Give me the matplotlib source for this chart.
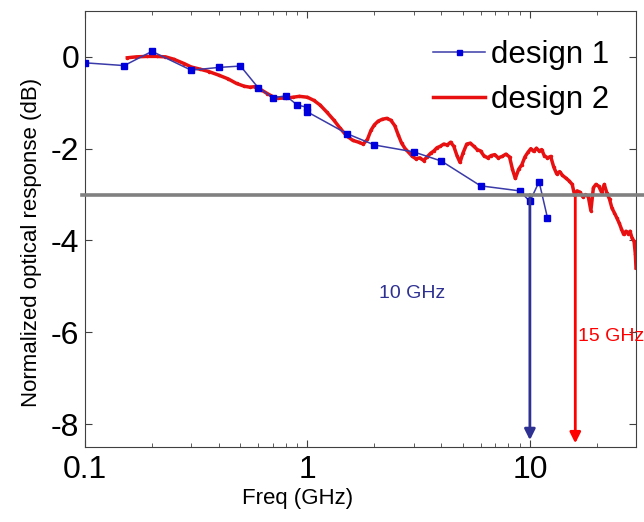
import matplotlib
matplotlib.use('Agg')
import matplotlib.pyplot as plt

plt.rcParams['font.family'] = ['Liberation Sans', 'DejaVu Sans']
plt.rcParams['axes.unicode_minus'] = False

# ── Data ──────────────────────────────────────────
# design 1: measured points
d1_freq = [0.1, 0.15, 0.2, 0.3, 0.4, 0.5, 0.6, 0.7, 0.8, 0.9, 1.0, 1.0,
           1.5, 2.0, 3.0, 4.0, 6.0, 9.0, 10.0, 11.0, 12.0]
d1_resp = [-0.13, -0.19, 0.12, -0.29, -0.23, -0.20, -0.67, -0.89, -0.85,
           -1.05, -1.10, -1.20, -1.67, -1.92, -2.07, -2.27, -2.81, -2.92,
           -3.15, -2.72, -3.51]

# design 2: swept response
d2_freq = [0.155, 0.17, 0.19, 0.21, 0.23, 0.25, 0.28, 0.3, 0.33, 0.36, 0.4,
           0.44, 0.48, 0.52, 0.55, 0.58, 0.62, 0.66, 0.7, 0.74, 0.8, 0.86,
           0.92, 1.0, 1.07, 1.14, 1.22, 1.31, 1.4, 1.5, 1.6, 1.7, 1.78, 1.86,
           1.93, 2.0, 2.08, 2.17, 2.27, 2.37, 2.47, 2.56, 2.65, 2.75, 2.85,
           2.95, 3.07, 3.2, 3.33, 3.45, 3.58, 3.7, 3.82, 3.95, 4.1, 4.25, 4.4,
           4.55, 4.7, 4.85, 5.0, 5.2, 5.4, 5.6, 5.8, 6.0, 6.2, 6.45, 6.7,
           6.95, 7.2, 7.5, 7.8, 8.1, 8.35, 8.6, 8.9, 9.2, 9.5, 9.8, 10.1,
           10.4, 10.7, 11.0, 11.3, 11.6, 12.0, 12.4, 12.8, 13.2, 13.6, 14.0,
           14.5, 15.0, 15.5, 15.9, 16.3, 16.8, 17.3, 17.8, 18.3, 18.8, 19.3,
           19.8, 20.4, 21.0, 21.6, 22.2, 22.8, 23.4, 24.0, 24.6, 25.2, 25.8,
           26.4, 27.0, 27.6, 28.2, 28.8, 29.4, 29.8, 30.0]
d2_resp = [-0.02, 0.0, 0.01, 0.01, 0.0, -0.05, -0.15, -0.22, -0.27, -0.32,
           -0.40, -0.48, -0.58, -0.64, -0.66, -0.65, -0.72, -0.80, -0.87,
           -0.90, -0.90, -0.88, -0.86, -0.88, -0.95, -1.05, -1.20, -1.37,
           -1.55, -1.72, -1.82, -1.86, -1.90, -1.80, -1.60, -1.48, -1.40,
           -1.36, -1.34, -1.38, -1.50, -1.70, -1.88, -2.00, -2.08, -2.16,
           -2.22, -2.20, -2.26, -2.18, -2.10, -2.05, -1.98, -1.95, -1.90,
           -1.92, -1.86, -1.95, -2.15, -2.30, -2.10, -1.90, -1.88, -1.95,
           -2.02, -2.05, -2.15, -2.20, -2.15, -2.13, -2.20, -2.17, -2.12,
           -2.18, -2.45, -2.65, -2.45, -2.35, -2.18, -2.08, -2.00, -2.06,
           -1.99, -2.05, -2.02, -2.15, -2.20, -2.17, -2.40, -2.55, -2.50,
           -2.58, -2.64, -2.70, -2.78, -3.02, -2.92, -2.95, -3.05, -3.00,
           -3.04, -3.35, -2.85, -2.78, -2.82, -2.95, -2.78, -2.97, -3.10,
           -3.30, -3.40, -3.51, -3.62, -3.75, -3.87, -3.80, -3.85, -3.80,
           -3.95, -4.02, -4.30, -4.60]

cutoff_d1 = 10.0
cutoff_d2 = 16.0
level_3db = -3.0

blue_line = '#3a3aa8'
blue_mark = '#0000dd'
red = '#e81010'

# ── Figure ────────────────────────────────────────
fig = plt.figure(figsize=(6.44, 5.22), dpi=100)
ax = fig.add_axes([0.132, 0.1437, 0.8556, 0.8353])

ax.plot(d1_freq, d1_resp, color=blue_line, lw=1.1, marker='s', ms=4.5,
        mfc=blue_mark, mec=blue_mark, label='design 1', zorder=3)
ax.plot(d2_freq, d2_resp, color=red, lw=2.5, marker='.', ms=3,
        label='design 2', zorder=2)

# -3 dB reference line (runs past the frame)
ax.plot([0.097, 33], [level_3db, level_3db], color='#808080', lw=2.6,
        clip_on=False, zorder=4)

# cutoff arrows
ax.annotate('', xy=(cutoff_d1, -8.35), xytext=(cutoff_d1, level_3db),
            arrowprops=dict(arrowstyle='-|>', color='#2e3192', lw=2,
                            mutation_scale=16, shrinkA=0, shrinkB=0))
ax.annotate('', xy=(cutoff_d2, -8.42), xytext=(cutoff_d2, level_3db),
            arrowprops=dict(arrowstyle='-|>', color='#ff0000', lw=2,
                            mutation_scale=16, shrinkA=0, shrinkB=0))
ax.text(2.95, -5.15, '10 GHz', color='#2e3192', fontsize=14,
        ha='center', va='center')
ax.text(16.5, -6.1, '15 GHz', color='#ff0000', fontsize=14,
        ha='left', va='center', clip_on=False)

ax.set_xscale('log')
ax.set_xlim(0.1, 30)
ax.set_ylim(-8.5, 1)
ax.set_xticks([0.1, 1, 10])
ax.set_xticklabels(['0.1', '1', '10'])
ax.set_yticks([0, -2, -4, -6, -8])

ax.tick_params(which='both', direction='in', top=True, right=True,
               labelsize=23, color='#404040')
ax.tick_params(axis='x', which='major', length=5, pad=6)
ax.tick_params(axis='x', which='minor', length=3)
ax.tick_params(axis='y', length=5, pad=4)
for sp in ax.spines.values():
    sp.set_color('#404040')

ax.set_xlabel('Freq (GHz)', fontsize=16)
ax.set_ylabel('Normalized optical response (dB)', fontsize=16)
ax.xaxis.set_label_coords(0.385, -0.095)
ax.yaxis.set_label_coords(-0.078, 0.47)

ax.legend(loc='upper right', bbox_to_anchor=(0.975, 0.963), frameon=False,
          fontsize=22.5, handlelength=1.68, handletextpad=0.2,
          labelspacing=0.5, borderaxespad=0, markerscale=0.8)

fig.savefig('out.png', dpi=100)
